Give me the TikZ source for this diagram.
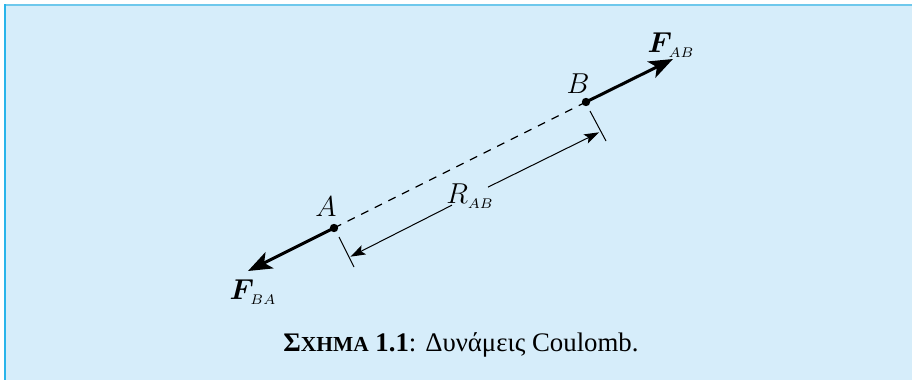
\documentclass[tikz,border=0pt]{standalone}
\usepackage{amsmath}
\usepackage{fontspec}
\setmainfont{Liberation Serif}
\usetikzlibrary{arrows.meta}
\definecolor{boxfill}{RGB}{214,237,250}
\definecolor{boxtop}{RGB}{110,200,236}
\definecolor{boxleft}{RGB}{40,180,234}
\begin{document}
\begin{tikzpicture}[x=0.5pt,y=-0.5pt,
    dot/.style={circle,fill=black,inner sep=0pt,minimum size=4.2pt},
    force/.style={line width=1.5pt,-{Stealth[length=12pt,width=9pt,inset=3pt]}},
    dimline/.style={line width=0.5pt,-{Stealth[length=7.5pt,width=5pt,inset=1.6pt]}},
    tickline/.style={line width=0.5pt},
    joinline/.style={line width=0.65pt,dash pattern=on 4pt off 3.6pt},
    every node/.style={font=\fontsize{15}{18}\selectfont}]
  % the shaded frame
  \useasboundingbox (0,0) rectangle (912,380);
  \fill[boxfill] (4,4) rectangle (912,380);
  \draw[boxtop,line width=1pt] (4,5) -- (912,5);
  \draw[boxleft,line width=1pt] (5,4) -- (5,380);
  % the two charges and the line joining them
  \node[dot] (A) at (334,228) {};
  \node[dot] (B) at (586,102) {};
  \node (labA) at (326,207) {$A$};
  \node (labB) at (578,84) {$B$};
  \draw[joinline] (A.center) -- (B.center);
  % the forces
  \coordinate (fba) at (248,271);
  \coordinate (fab) at (673,59);
  \draw[force] (A.center) -- (fba);
  \draw[force] (B.center) -- (fab);
  \node (labFba) at (253,292) {$\boldsymbol{F}_{\!\scriptscriptstyle BA}$};
  \node (labFab) at (671,45) {$\boldsymbol{F}_{\!\scriptscriptstyle AB}$};
  % the distance R between the ticks
  \draw[tickline] (339,237) -- (354,267);
  \draw[tickline] (590,111) -- (606,141);
  \coordinate (da) at (350.4,256.7);
  \coordinate (db) at (599.2,132.3);
  \node[inner xsep=-3pt,inner ysep=0pt] (R) at (470,196) {$R_{\scriptscriptstyle AB}$};
  \draw[dimline] (R) -- (da);
  \draw[dimline] (R) -- (db);
  % caption
  \node[font=\fontsize{13.4}{16}\selectfont] (cap) at (461,345)
    {{\bfseries Σ{\fontsize{10.7}{13}\selectfont ΧΗΜΑ} 1.1}: Δυνάμεις Coulomb.};
\end{tikzpicture}
\end{document}
